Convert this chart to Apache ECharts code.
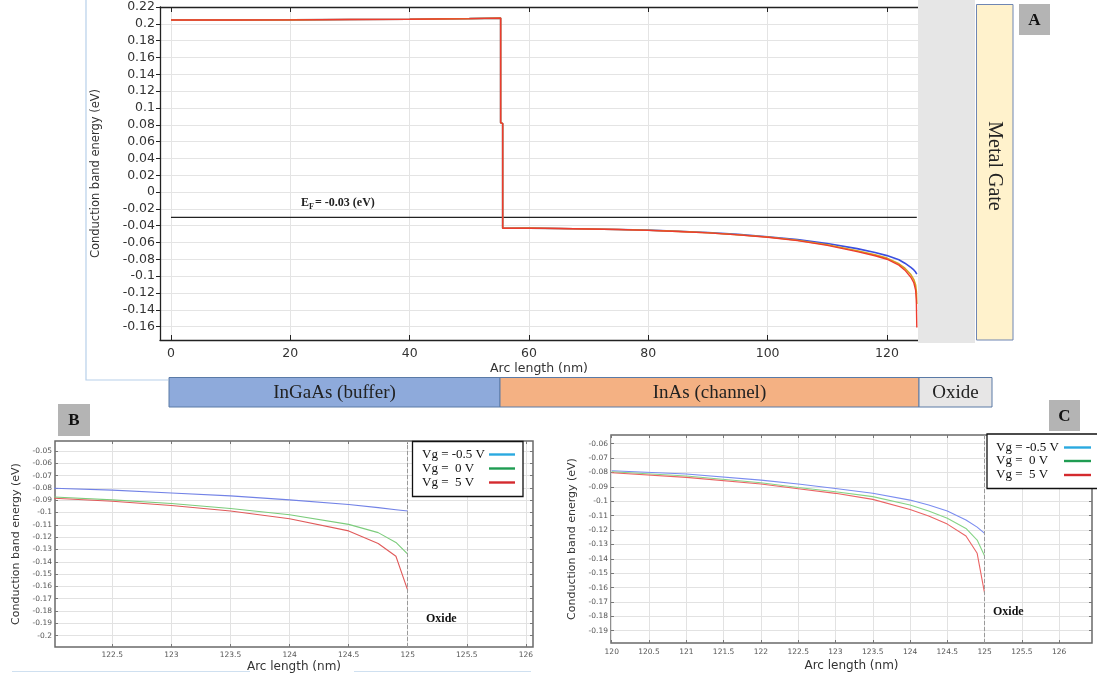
<!DOCTYPE html>
<html><head><meta charset="utf-8">
<script src="https://cdn.jsdelivr.net/npm/echarts@6/dist/echarts.min.js"></script>
<style>html,body{margin:0;padding:0;background:#fff}#c{width:1097px;height:682px}</style>
</head><body><div id="c"></div>
<script>
// ---------------- data ----------------
const aTickX = [0, 20, 40, 60, 80, 100, 120];
const aTickY = [0.22, 0.2, 0.18, 0.16, 0.14, 0.12, 0.1, 0.08, 0.06, 0.04, 0.02, 0, -0.02, -0.04, -0.06, -0.08, -0.1, -0.12, -0.14, -0.16];
const bTickX = [122.5, 123, 123.5, 124, 124.5, 125, 125.5, 126];
const bTickY = [-0.05, -0.06, -0.07, -0.08, -0.09, -0.1, -0.11, -0.12, -0.13, -0.14, -0.15, -0.16, -0.17, -0.18, -0.19, -0.2];
const cTickX = [120, 120.5, 121, 121.5, 122, 122.5, 123, 123.5, 124, 124.5, 125, 125.5, 126];
const cTickY = [-0.06, -0.07, -0.08, -0.09, -0.1, -0.11, -0.12, -0.13, -0.14, -0.15, -0.16, -0.17, -0.18, -0.19];
const legendLabels = ['Vg = -0.5 V', 'Vg =  0 V', 'Vg =  5 V'];
const layerNames = ['InGaAs (buffer)', 'InAs (channel)', 'Oxide'];
const fermiLevel = -0.03;
const fermiRange = [0, 125];
const oxideEdge = 125;

// Panel A : buffer region (common to all gate voltages)
const aBufferX = [0, 10, 20, 30, 40, 50, 55.25, 55.25, 55.59];
const aBufferY = [0.2045, 0.2046, 0.2047, 0.2052, 0.2055, 0.2062, 0.2068, 0.0825, 0.0815];
// Panel A : channel region
const aChannelX = [55.59, 60, 65, 70, 75, 80, 85, 90, 95, 100, 105, 110, 115, 118, 120, 122, 123, 124, 124.5, 124.8, 124.92, 125];
const aBlueY   = [-0.0430, -0.0428, -0.0432, -0.0438, -0.0444, -0.0452, -0.0465, -0.0480, -0.0503, -0.0530, -0.0565, -0.0612, -0.0672, -0.0718, -0.0755, -0.0805, -0.0845, -0.0895, -0.0925, -0.0950, -0.0962, -0.0975];
const aOrangeY = [-0.0430, -0.0428, -0.0432, -0.0438, -0.0445, -0.0454, -0.0467, -0.0483, -0.0507, -0.0534, -0.0572, -0.0626, -0.0697, -0.0746, -0.0785, -0.0852, -0.0905, -0.0980, -0.1040, -0.1105, -0.1180, -0.1330];
const aRedY    = [-0.0430, -0.0428, -0.0432, -0.0438, -0.0445, -0.0455, -0.0468, -0.0485, -0.0509, -0.0537, -0.0577, -0.0633, -0.0707, -0.0757, -0.0798, -0.0868, -0.0928, -0.1012, -0.1078, -0.1165, -0.1280, -0.1610];

// Panel B
const bX      = [122.0, 122.5, 123, 123.5, 124, 124.5, 124.75, 124.9, 125];
const bBlueY  = [-0.0803, -0.0818, -0.0841, -0.0865, -0.0897, -0.0935, -0.0960, -0.0977, -0.0988];
const bGreenY = [-0.0873, -0.0897, -0.0927, -0.0967, -0.1018, -0.1096, -0.1163, -0.1243, -0.1337];
const bRedY   = [-0.0884, -0.0908, -0.0943, -0.0988, -0.1050, -0.1149, -0.1251, -0.1355, -0.1632];

// Panel C
const cX      = [120, 121, 122, 122.5, 123, 123.5, 124, 124.25, 124.5, 124.75, 124.9, 125];
const cBlueY  = [-0.0788, -0.0811, -0.0853, -0.0880, -0.0911, -0.0945, -0.0992, -0.1026, -0.1068, -0.1130, -0.1180, -0.1223];
const cGreenY = [-0.0795, -0.0825, -0.0871, -0.0904, -0.0934, -0.0968, -0.1026, -0.1068, -0.1119, -0.1189, -0.1270, -0.1381];
const cRedY   = [-0.0802, -0.0834, -0.0880, -0.0913, -0.0945, -0.0987, -0.1057, -0.1103, -0.1159, -0.1242, -0.1362, -0.1640];

// ---------------- helpers ----------------
const zip = (xs, ys) => xs.map((x, i) => [x, ys[i]]);
const fmt = v => String(parseFloat(Number(v).toFixed(4)));
const SANS = "'DejaVu Sans', sans-serif";
const SERIF = "'Liberation Serif', 'Times New Roman', serif";
const aPts = ys => zip(aBufferX, aBufferY).concat(zip(aChannelX, ys));

function xAx(grid, min, max, ticks, o) {
  return Object.assign({
    type: 'value', gridIndex: grid, min: min, max: max, position: 'bottom',
    axisLine: { show: false, onZero: false }, axisTick: { show: true, inside: true, length: 3, customValues: ticks, lineStyle: { color: '#777' } },
    axisLabel: { show: true, customValues: ticks, formatter: fmt, fontFamily: SANS, fontSize: 7.5, color: '#555', margin: 4 },
    splitLine: { show: true, lineStyle: { color: '#e2e2e2', width: 1 } }
  }, o || {});
}
function yAx(grid, min, max, ticks, o) {
  return Object.assign({
    type: 'value', gridIndex: grid, min: min, max: max, position: 'left',
    axisLine: { show: false, onZero: false }, axisTick: { show: true, inside: true, length: 3, customValues: ticks, lineStyle: { color: '#777' } },
    axisLabel: { show: true, customValues: ticks, formatter: fmt, fontFamily: SANS, fontSize: 7.5, color: '#555', margin: 3 },
    splitLine: { show: true, lineStyle: { color: '#e2e2e2', width: 1 } }
  }, o || {});
}
const mirror = { axisLabel: { show: false }, splitLine: { show: false } };

const darkAxis = { show: true, onZero: false, lineStyle: { color: '#222', width: 1.3 } };

const xAxes = [
  xAx(0, -1.84, 125.2, aTickX, {
    axisLine: darkAxis,
    axisTick: { show: true, inside: true, length: 5, customValues: aTickX, lineStyle: { color: '#222' } },
    axisLabel: { customValues: aTickX, formatter: fmt, fontFamily: SANS, fontSize: 12.5, color: '#333', margin: 7 },
    splitLine: { show: true, lineStyle: { color: '#e4e4e4' } },
    name: 'Arc length (nm)', nameLocation: 'middle', nameGap: 22,
    nameTextStyle: { fontFamily: SANS, fontSize: 12.5, color: '#333' }
  }),
  xAx(0, -1.84, 125.2, aTickX, {
    position: 'top', axisLine: darkAxis,
    axisTick: { show: true, inside: true, length: 5, customValues: aTickX, lineStyle: { color: '#222' } },
    axisLabel: { show: false }, splitLine: { show: false }
  }),
  xAx(1, 122.015, 126.06, bTickX, {
    name: 'Arc length (nm)', nameLocation: 'middle', nameGap: 14,
    nameTextStyle: { fontFamily: SANS, fontSize: 12, color: '#333' }
  }),
  xAx(1, 122.015, 126.06, bTickX, Object.assign({ position: 'top' }, mirror)),
  xAx(2, 119.99, 126.44, cTickX, {
    axisLabel: { customValues: cTickX, formatter: fmt, fontFamily: SANS, fontSize: 7.5, color: '#555', margin: 5 },
    name: 'Arc length (nm)', nameLocation: 'middle', nameGap: 17,
    nameTextStyle: { fontFamily: SANS, fontSize: 12, color: '#333' }
  }),
  xAx(2, 119.99, 126.44, cTickX, Object.assign({ position: 'top' }, mirror))
];

const yAxes = [
  yAx(0, -0.1758, 0.22, aTickY, {
    axisLine: darkAxis,
    axisTick: { show: true, inside: false, length: 4, customValues: aTickY, lineStyle: { color: '#222' } },
    axisLabel: { customValues: aTickY, formatter: fmt, fontFamily: SANS, fontSize: 12.5, color: '#333', margin: 5 },
    splitLine: { show: true, lineStyle: { color: '#e4e4e4' } },
    name: 'Conduction band energy (eV)', nameLocation: 'middle', nameGap: 58,
    nameTextStyle: { fontFamily: SANS, fontSize: 11.5, color: '#333' }
  }),
  yAx(1, -0.2092, -0.0419, bTickY, {
    name: 'Conduction band energy (eV)', nameLocation: 'middle', nameGap: 33,
    nameTextStyle: { fontFamily: SANS, fontSize: 11, color: '#333' }
  }),
  yAx(1, -0.2092, -0.0419, bTickY, Object.assign({ position: 'right' }, mirror)),
  yAx(2, -0.19855, -0.05395, cTickY, {
    axisLabel: { customValues: cTickY, formatter: fmt, fontFamily: SANS, fontSize: 7.5, color: '#555', margin: 3 },
    name: 'Conduction band energy (eV)', nameLocation: 'middle', nameGap: 33,
    nameTextStyle: { fontFamily: SANS, fontSize: 11, color: '#333' }
  }),
  yAx(2, -0.19855, -0.05395, cTickY, Object.assign({ position: 'right' }, mirror))
];

function line(xi, yi, data, color, width, extra) {
  return Object.assign({
    type: 'line', xAxisIndex: xi, yAxisIndex: yi, data: data, showSymbol: false, symbol: 'none',
    lineStyle: { color: color, width: width }, itemStyle: { color: color }, silent: true, z: 3
  }, extra || {});
}
const oxideMark = {
  silent: true, symbol: 'none', label: { show: false },
  lineStyle: { type: 'dashed', color: '#9a9a9a', width: 1 },
  data: [{ xAxis: oxideEdge }]
};

const series = [
  line(0, 0, aPts(aBlueY), '#3b4fe0', 1.6),
  line(0, 0, aPts(aOrangeY), '#d6a020', 1.6),
  line(0, 0, aPts(aRedY), '#ee3b2e', 1.4),
  line(0, 0, fermiRange.map(x => [x, fermiLevel]), '#222', 1.2, { z: 2 }),
  line(2, 1, zip(bX, bBlueY), '#7282e6', 1.1, { markLine: oxideMark }),
  line(2, 1, zip(bX, bGreenY), '#7ccc7c', 1.1),
  line(2, 1, zip(bX, bRedY), '#e05a5a', 1.1),
  line(4, 3, zip(cX, cBlueY), '#7a8cf0', 1.1, { markLine: oxideMark }),
  line(4, 3, zip(cX, cGreenY), '#86d486', 1.1),
  line(4, 3, zip(cX, cRedY), '#ea6464', 1.1)
];

// ---------------- decorations ----------------
const legendColors = ['#2aa9e0', '#1f9c52', '#d42a2e'];
function legendBox(x, y, w, h, textX, rowYs, lineX1, lineX2) {
  const els = [{ type: 'rect', shape: { x: x, y: y, width: w, height: h }, style: { fill: '#fff', stroke: '#111', lineWidth: 1.3 }, z: 100 }];
  legendLabels.forEach((t, i) => {
    els.push({ type: 'text', x: textX, y: rowYs[i], style: { text: t, font: '13px ' + SERIF, fill: '#111', align: 'left', verticalAlign: 'middle' }, z: 101 });
    els.push({ type: 'line', shape: { x1: lineX1, y1: rowYs[i], x2: lineX2, y2: rowYs[i] }, style: { stroke: legendColors[i], lineWidth: 2.4 }, z: 101 });
  });
  return els;
}
function letterBox(x, y, w, h, t) {
  return [
    { type: 'rect', shape: { x: x, y: y, width: w, height: h }, style: { fill: '#b4b4b4' }, z: 100 },
    { type: 'text', x: x + w / 2, y: y + h / 2 + 1, style: { text: t, font: 'bold 17px ' + SERIF, fill: '#111', align: 'center', verticalAlign: 'middle' }, z: 101 }
  ];
}
const layerColors = ['#8eaadb', '#f4b183', '#e7e6e6'];
const layerEdges = [169, 500, 919, 992];

let graphics = [
  { type: 'polyline', shape: { points: [[86, 0], [86, 380], [168, 380]] }, style: { stroke: '#b7d0ea', lineWidth: 1.2, fill: null }, z: 1 },
  { type: 'rect', shape: { x: 918, y: 0, width: 57, height: 343 }, style: { fill: '#e6e6e6' }, z: 100 },
  { type: 'rect', shape: { x: 976.5, y: 4.5, width: 36.5, height: 335.5 }, style: { fill: '#fff2cc', stroke: '#6f86b3', lineWidth: 1 }, z: 100 },
  { type: 'text', x: 994.5, y: 166, rotation: -Math.PI / 2, style: { text: 'Metal Gate', font: '20px ' + SERIF, fill: '#222', align: 'center', verticalAlign: 'middle' }, z: 101 },
  { type: 'text', x: 301, y: 203, style: { text: 'E', font: 'bold 12px ' + SERIF, fill: '#222', align: 'left', verticalAlign: 'middle' }, z: 101 },
  { type: 'text', x: 309, y: 206.5, style: { text: 'F', font: 'bold 8px ' + SERIF, fill: '#222', align: 'left', verticalAlign: 'middle' }, z: 101 },
  { type: 'text', x: 315, y: 203, style: { text: '= -0.03 (eV)', font: 'bold 12px ' + SERIF, fill: '#222', align: 'left', verticalAlign: 'middle' }, z: 101 },
  { type: 'text', x: 426, y: 619, style: { text: 'Oxide', font: 'bold 12px ' + SERIF, fill: '#111', align: 'left', verticalAlign: 'middle' }, z: 101 },
  { type: 'text', x: 993, y: 612, style: { text: 'Oxide', font: 'bold 12px ' + SERIF, fill: '#111', align: 'left', verticalAlign: 'middle' }, z: 101 },
  { type: 'line', shape: { x1: 12, y1: 671.5, x2: 250, y2: 671.5 }, style: { stroke: '#cfe0f0', lineWidth: 1 }, z: 1 },
  { type: 'line', shape: { x1: 354, y1: 671.5, x2: 531, y2: 671.5 }, style: { stroke: '#cfe0f0', lineWidth: 1 }, z: 1 }
];
layerNames.forEach((n, i) => {
  const x0 = layerEdges[i], x1 = layerEdges[i + 1];
  graphics.push({ type: 'rect', shape: { x: x0, y: 377.5, width: x1 - x0, height: 29.5 }, style: { fill: layerColors[i], stroke: '#5a7aa6', lineWidth: 1 }, z: 100 });
  graphics.push({ type: 'text', x: (x0 + x1) / 2, y: 393, style: { text: n, font: '19px ' + SERIF, fill: '#222', align: 'center', verticalAlign: 'middle' }, z: 101 });
});
graphics = graphics
  .concat(letterBox(1019, 4, 31, 31, 'A'))
  .concat(letterBox(58, 404, 32, 32, 'B'))
  .concat(letterBox(1049, 400, 31, 31, 'C'))
  .concat(legendBox(412.5, 441.5, 110.5, 55, 422, [454.5, 468.5, 482.5], 489, 515))
  .concat(legendBox(987, 434, 115, 54.5, 996, [447.5, 461, 475], 1064, 1091));

const chart = echarts.init(document.getElementById('c'), null, { renderer: 'canvas' });
chart.setOption({
  animation: false,
  backgroundColor: '#fff',
  grid: [
    { left: 160, top: 7, width: 758, height: 333, outerBoundsMode: 'none', containLabel: false },
    { left: 55, top: 441, width: 478, height: 206, show: true, borderColor: '#6a6a6a', borderWidth: 1.5, outerBoundsMode: 'none', containLabel: false },
    { left: 611, top: 435, width: 481, height: 208, show: true, borderColor: '#6a6a6a', borderWidth: 1.5, outerBoundsMode: 'none', containLabel: false }
  ],
  xAxis: xAxes,
  yAxis: yAxes,
  series: series,
  graphic: graphics
});
</script></body></html>
